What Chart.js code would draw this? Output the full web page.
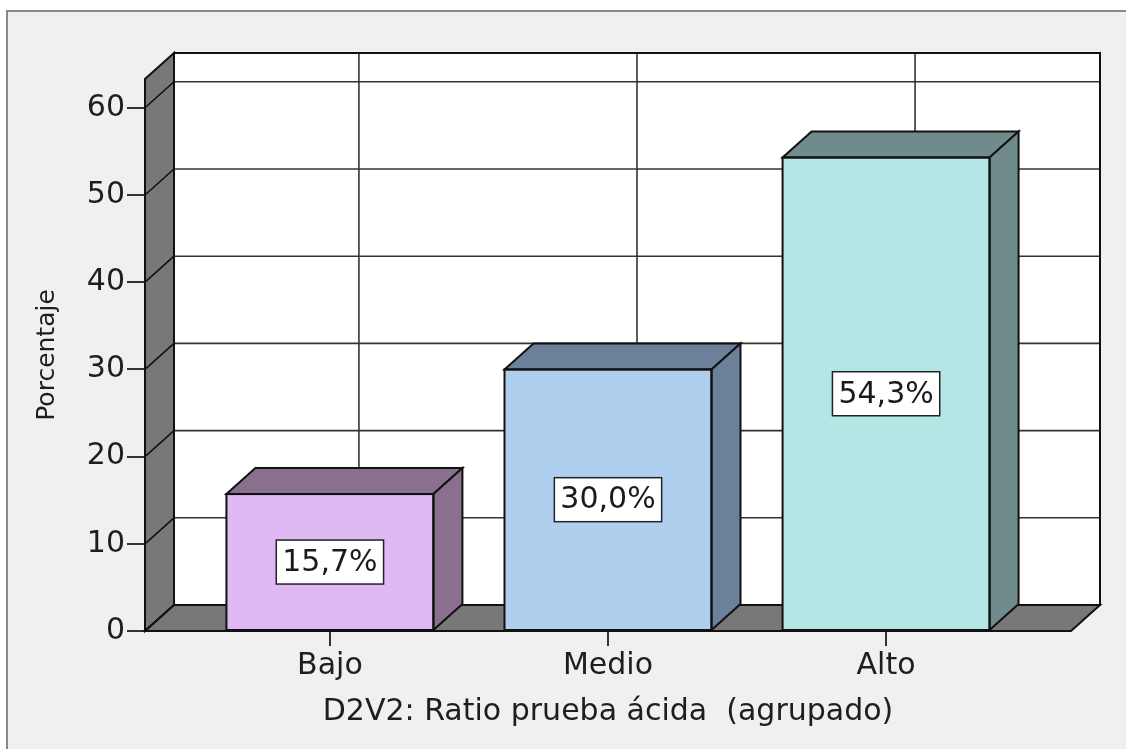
<!DOCTYPE html>
<html>
<head>
<meta charset="utf-8">
<script src="https://cdn.jsdelivr.net/npm/chart.js@4.4.1/dist/chart.umd.min.js"></script>
<style>
  html, body { margin: 0; padding: 0; background: #fff; }
  #wrap { width: 1126px; height: 749px; }
</style>
</head>
<body>
<div id="wrap"><canvas id="chart" width="1126" height="749"></canvas></div>
<script>
// Data
const categories = ['Bajo', 'Medio', 'Alto'];
const percentages = [15.7, 30.0, 54.3];
const valueLabels = ['15,7%', '30,0%', '54,3%'];
const yTicks = [0, 10, 20, 30, 40, 50, 60];

const frontColors = ['#dfb9f3', '#aecfed', '#b4e6e6'];
const sideColors = ['#89708f', '#6a8199', '#6f8b8b'];

// 3D depth offset of the back plane (pixels)
const DX = 29, DY = 26;
const FONT = 'DejaVu Sans';

function poly(ctx, pts, fill) {
    ctx.beginPath();
    ctx.moveTo(pts[0][0], pts[0][1]);
    for (let i = 1; i < pts.length; i++) ctx.lineTo(pts[i][0], pts[i][1]);
    ctx.closePath();
    if (fill) { ctx.fillStyle = fill; ctx.fill(); }
    ctx.stroke();
}

// Background frame + back wall, side wall, floor and gridlines
const boxPlugin = {
    id: 'box3d',
    beforeDraw(chart) {
        const ctx = chart.ctx;
        ctx.save();
        ctx.fillStyle = '#ffffff';
        ctx.fillRect(0, 0, chart.width, chart.height);
        ctx.fillStyle = '#f0f0f0';
        ctx.fillRect(8, 12, chart.width - 8, chart.height - 12);
        ctx.strokeStyle = '#8a8a8a';
        ctx.lineWidth = 2;
        ctx.beginPath();
        ctx.moveTo(7, chart.height);
        ctx.lineTo(7, 11);
        ctx.lineTo(chart.width, 11);
        ctx.stroke();
        ctx.restore();
    },
    beforeDatasetsDraw(chart) {
        const ctx = chart.ctx;
        const { left, right, top, bottom } = chart.chartArea;
        const x = chart.scales.x, y = chart.scales.y;
        ctx.save();
        ctx.lineJoin = 'miter';
        ctx.strokeStyle = '#111';
        ctx.lineWidth = 2;
        // back wall
        ctx.fillStyle = '#ffffff';
        ctx.fillRect(left + DX, top - DY, right - left, bottom - top);
        // horizontal gridlines on back wall
        ctx.strokeStyle = '#333';
        ctx.lineWidth = 1.6;
        yTicks.forEach(v => {
            if (v === 0) return;
            const py = y.getPixelForValue(v) - DY;
            ctx.beginPath();
            ctx.moveTo(left + DX, py);
            ctx.lineTo(right + DX, py);
            ctx.stroke();
        });
        // vertical gridlines on back wall
        categories.forEach((c, i) => {
            const px = x.getPixelForValue(i) + DX;
            ctx.beginPath();
            ctx.moveTo(px, top - DY);
            ctx.lineTo(px, bottom - DY);
            ctx.stroke();
        });
        ctx.strokeStyle = '#111';
        ctx.lineWidth = 2;
        ctx.strokeRect(left + DX, top - DY, right - left, bottom - top);
        // left side wall
        poly(ctx, [[left, bottom], [left, top], [left + DX, top - DY], [left + DX, bottom - DY]], '#787878');
        // floor
        poly(ctx, [[left, bottom], [right, bottom], [right + DX, bottom - DY], [left + DX, bottom - DY]], '#787878');
        // diagonal ticks on side wall
        ctx.lineWidth = 1.6;
        yTicks.forEach(v => {
            const py = y.getPixelForValue(v);
            ctx.beginPath();
            ctx.moveTo(left, py);
            ctx.lineTo(left + DX, py - DY);
            ctx.stroke();
        });
        ctx.restore();
    },
    afterDatasetsDraw(chart) {
        const ctx = chart.ctx;
        const meta = chart.getDatasetMeta(0);
        ctx.save();
        ctx.strokeStyle = '#111';
        ctx.lineWidth = 2;
        ctx.lineJoin = 'miter';
        meta.data.forEach((bar, i) => {
            const p = bar.getProps(['x', 'y', 'base', 'width'], true);
            const l = p.x - p.width / 2, r = p.x + p.width / 2;
            // top face
            poly(ctx, [[l, p.y], [l + DX, p.y - DY], [r + DX, p.y - DY], [r, p.y]], sideColors[i]);
            // right face
            poly(ctx, [[r, p.y], [r + DX, p.y - DY], [r + DX, p.base - DY], [r, p.base]], sideColors[i]);
            // front outline
            ctx.strokeRect(l, p.y, p.width, p.base - p.y);
            // value label
            const cy = (p.y + p.base) / 2;
            ctx.font = '30px "' + FONT + '"';
            const tw = ctx.measureText(valueLabels[i]).width;
            const bw = tw + 12, bh = 44;
            ctx.fillStyle = '#fff';
            ctx.fillRect(p.x - bw / 2, cy - bh / 2, bw, bh);
            ctx.strokeStyle = '#222';
            ctx.lineWidth = 1.5;
            ctx.strokeRect(p.x - bw / 2, cy - bh / 2, bw, bh);
            ctx.fillStyle = '#1a1a1a';
            ctx.textAlign = 'center';
            ctx.textBaseline = 'middle';
            ctx.fillText(valueLabels[i], p.x, cy + 1);
            ctx.strokeStyle = '#111';
            ctx.lineWidth = 2;
        });
        ctx.restore();
    }
};

new Chart(document.getElementById('chart'), {
    type: 'bar',
    data: {
        datasets: [{
            data: percentages.map((v, i) => ({ x: i, y: v })),
            backgroundColor: frontColors,
            borderColor: '#111',
            borderWidth: 0,
            barThickness: 207
        }]
    },
    plugins: [boxPlugin],
    options: {
        responsive: false,
        animation: false,
        events: [],
        layout: { padding: { left: 20, right: 55, top: 79, bottom: 19 } },
        plugins: { legend: { display: false }, tooltip: { enabled: false } },
        scales: {
            x: {
                type: 'linear',
                min: -0.665,
                max: 2.665,
                offset: false,
                afterBuildTicks: s => { s.ticks = categories.map((c, i) => ({ value: i })); },
                afterFit: s => { s.height = 99; },
                ticks: {
                    callback: v => categories[v],
                    font: { family: FONT, size: 30 },
                    color: '#1e1e1e',
                    padding: 2,
                    maxRotation: 0,
                    autoSkip: false
                },
                grid: { drawOnChartArea: false, offset: false, tickLength: 15, tickColor: '#333', lineWidth: 2 },
                border: { display: false },
                title: {
                    display: true,
                    text: 'D2V2: Ratio prueba ácida  (agrupado)',
                    font: { family: FONT, size: 30 },
                    color: '#1e1e1e',
                    padding: { top: 0, bottom: 0 }
                }
            },
            y: {
                min: 0,
                max: 63.3,
                afterBuildTicks: s => { s.ticks = yTicks.map(v => ({ value: v })); },
                afterFit: s => { s.width = 125; },
                ticks: {
                    font: { family: FONT, size: 30 },
                    color: '#1e1e1e',
                    padding: 2
                },
                grid: { drawOnChartArea: false, tickLength: 18, tickColor: '#333', lineWidth: 2 },
                border: { display: false },
                title: {
                    display: true,
                    text: 'Porcentaje',
                    font: { family: FONT, size: 25 },
                    color: '#1e1e1e',
                    padding: { top: 12, bottom: 0 }
                }
            }
        }
    }
});
</script>
</body>
</html>
